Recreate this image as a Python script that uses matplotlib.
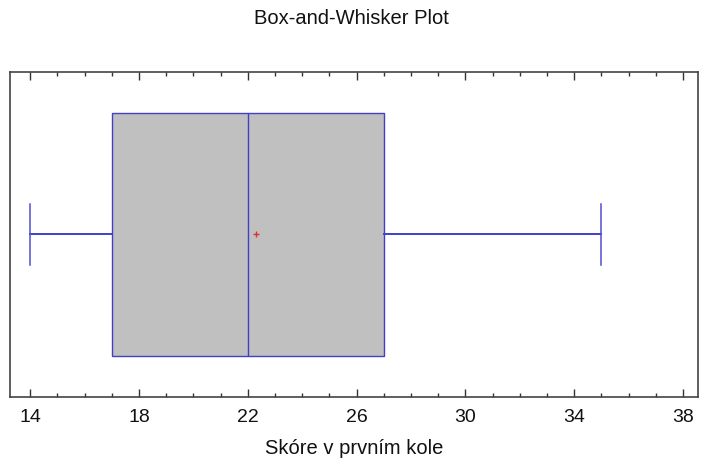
import matplotlib.pyplot as plt
from matplotlib.ticker import MultipleLocator

plt.rcParams['font.family'] = ['Liberation Sans', 'DejaVu Sans']

# summary stats
whisker_lo = 14
q1 = 17
median = 22
q3 = 27
whisker_hi = 35
mean = 22.3
xticks = [14, 18, 22, 26, 30, 34, 38]

stats = [{'whislo': whisker_lo, 'q1': q1, 'med': median, 'q3': q3,
          'whishi': whisker_hi, 'mean': mean, 'fliers': []}]

fig = plt.figure(figsize=(7.03, 4.58), dpi=100)
ax = fig.add_axes([10/703, 61/458, 688/703, 325/458])

blue = '#4040c8'
ax.bxp(stats, positions=[0.5], widths=0.75, vert=False, patch_artist=True,
       showmeans=True, capwidths=0.19,
       boxprops=dict(facecolor='#c0c0c0', edgecolor=blue, linewidth=1.0),
       medianprops=dict(color=blue, linewidth=1.0),
       whiskerprops=dict(color=blue, linewidth=1.4),
       capprops=dict(color='#5050d0', linewidth=1.1),
       meanprops=dict(marker='+', markeredgecolor='#e03030', markersize=5,
                      markeredgewidth=1.0))

ax.set_ylim(0, 1)
ax.set_xlim(13.26, 38.55)
ax.set_yticks([])
ax.set_xticks(xticks)
ax.xaxis.set_minor_locator(MultipleLocator(1))
ax.tick_params(axis='x', which='major', direction='in', length=6, width=1,
               top=True, labelsize=14, pad=9, colors='#333333',
               labelcolor='#111111')
ax.tick_params(axis='x', which='minor', direction='in', length=3, width=1,
               top=True, colors='#333333')
for s in ax.spines.values():
    s.set_color('#444444')
    s.set_linewidth(1.2)

ax.set_xlabel('Skóre v prvním kole', fontsize=14.5, color='#111111', labelpad=9)
fig.text(0.5, 1 - 18/458, 'Box-and-Whisker Plot', ha='center', va='center',
         fontsize=14.5, color='#111111')

fig.savefig('out.png', dpi=100)
